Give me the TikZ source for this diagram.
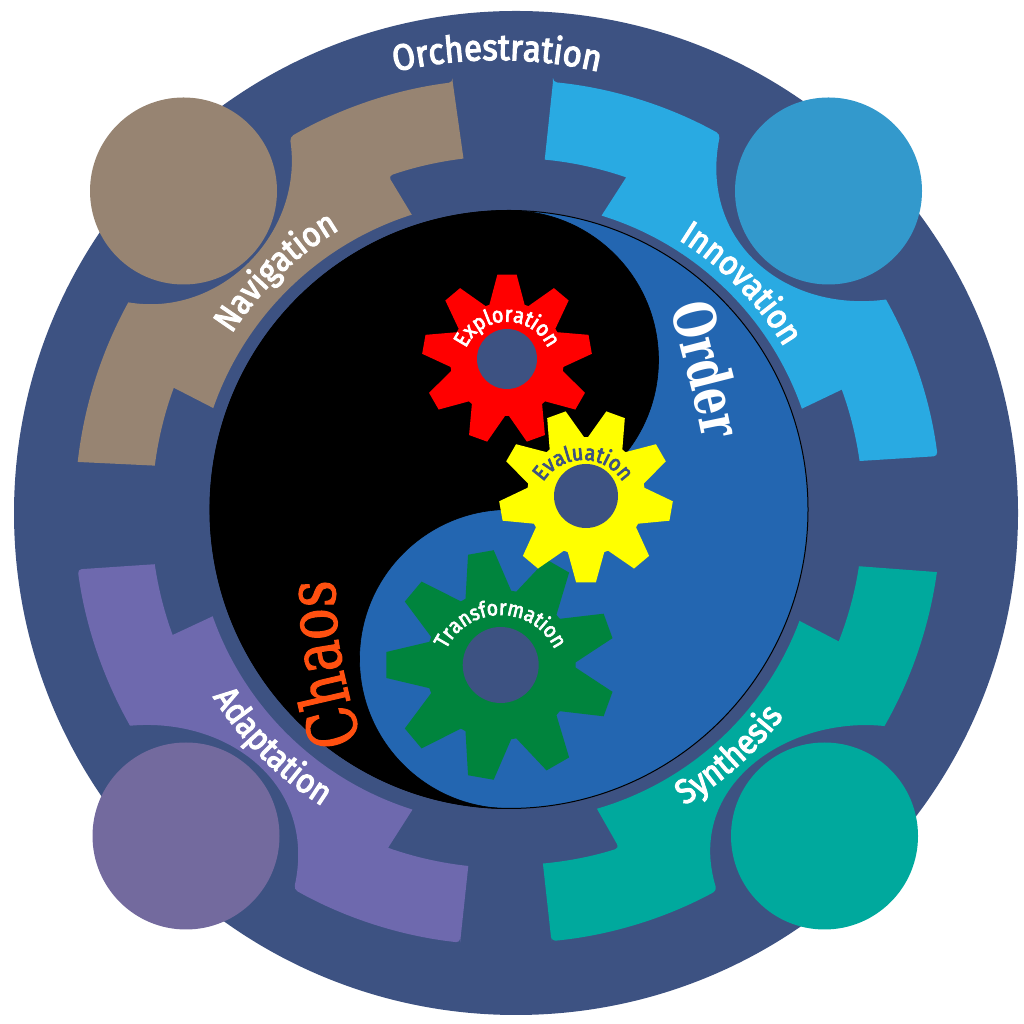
\documentclass[tikz,border=0pt]{standalone}
\usepackage{fontspec}
\usetikzlibrary{decorations.text}
\newfontfamily\labelfont[FakeStretch=0.9,FakeBold=3.2]{Fira Sans}
\newfontfamily\slabfont[FakeStretch=0.77,FakeBold=1.5]{DejaVu Serif}
\newfontfamily\orderfont[FakeStretch=0.72]{DejaVu Serif Bold}
\definecolor{RingNavy}{RGB}{61,82,130}
\definecolor{ArmTan}{RGB}{151,132,114}
\definecolor{ArmSky}{RGB}{41,170,226}
\definecolor{HeadSky}{RGB}{51,153,204}
\definecolor{ArmViolet}{RGB}{110,105,174}
\definecolor{HeadViolet}{RGB}{115,106,158}
\definecolor{ArmTeal}{RGB}{0,169,157}
\definecolor{YangBlue}{RGB}{35,102,177}
\definecolor{GearGreen}{RGB}{0,132,61}
\definecolor{GearRed}{RGB}{255,0,0}
\definecolor{GearYellow}{RGB}{255,255,0}
\definecolor{ChaosOrange}{RGB}{255,80,16}
% gear: centre x, centre y, first tooth angle, tip radius, root radius, colour
\newcommand{\gearshape}[6]{%
	\fill[#6, shift={(#1,#2)}] (#3-18:#5)
		\foreach \k in {0,...,8} {
			-- ({#3+40*\k-18}:#5) -- ({#3+40*\k-6.5}:#4)
			-- ({#3+40*\k+6.5}:#4) -- ({#3+40*\k+18}:#5)
		} -- cycle;}

\begin{document}
\begin{tikzpicture}[x=1pt, y=1pt,
	head/.style={circle, inner sep=0pt, minimum size=187pt},
	hole/.style={circle, inner sep=0pt, fill=RingNavy},
	arctext/.style={decorate, decoration={text along path, text align=center, text={#1}}}]

	\useasboundingbox (0,0) rectangle (1024,1024);
	\node[circle, inner sep=0pt, minimum size=1004pt, fill=RingNavy] (ring) at (516,511) {};

	\node[head, fill=ArmTan] (navhead) at (183.5,833) {};
	\node[head, fill=HeadSky] (innhead) at (828.5,833) {};
	\node[head, fill=HeadViolet] (adahead) at (186,188) {};
	\node[head, fill=ArmTeal] (synhead) at (824.5,188) {};

	\foreach \colr/\cx/\cy/\rout/\rmid/\rin/\aA/\aB/\aC/\aD/\aE/\aF/\aG/\aH/\aI/\aJ/\ca/\cb/\rb/\rg in {
		ArmTan/506/514/431/354/310/97.1/96.9/109.4/107.7/160.8/159.8/172.8/173.6/151.2/120.1/{-286,192}/{-202,276}/4pt/0.01pt,
		ArmSky/511/514/430/352/308/84.4/84.5/70.9/72.9/19.2/20/8/7.2/29.3/60.9/{273,197}/{188,269}/0.01pt/4pt,
		ArmViolet/506/511/432/355/311/263.9/263.9/250.6/252.5/199.4/200.1/188.3/187.5/209.5/240.6/{-278,-204}/{-189,-271}/0.01pt/4pt,
		ArmTeal/511/511/430/352/308/-84.6/-84.8/-72.1/-73.8/-20.5/-21.4/-8.7/-7.9/-29.7/-61.4/{277,-203}/{174,-272}/4pt/0.01pt} {
		\fill[\colr, shift={(\cx,\cy)}] (\aA:\rout) -- (\aB:\rmid) [rounded corners=\rb] arc (\aB:\aC:\rmid)
			[sharp corners] -- (\aD:\rin) arc (\aD:\aE:\rin) -- (\aF:\rmid) arc (\aF:\aG:\rmid)
			[rounded corners=\rg] -- (\aH:\rout) [sharp corners] arc (\aH:\aI:\rout)
			[rounded corners=4pt] .. controls (\ca) and (\cb) .. (\aJ:\rout)
			arc (\aJ:\aA:\rout) [sharp corners] -- cycle;
	}

	% yin and yang
	\draw[line width=1pt, fill=YangBlue] (509,514.5) circle (299);
	\draw[line width=0.6pt, fill=black] (509,813.5) arc (90:-90:149.5) arc (90:270:149.5) arc (270:90:299) -- cycle;

	\gearshape{507}{665}{90}{85}{57}{GearRed}
	\gearshape{500.7}{359}{180}{115}{75}{GearGreen}
	\gearshape{586}{528}{270}{87}{59}{GearYellow}
	\node[hole, minimum size=60pt] (explhole) at (507,665) {};
	\node[hole, minimum size=64pt] (evalhole) at (586,528) {};
	\node[hole, minimum size=76pt] (tranhole) at (500.7,359) {};

	\path[arctext={|\fontsize{36.5}{36.5}\labelfont\color{white}|Orchestration}, shift={(497,514)}] (107:450) arc (107:73:450);
	\path[arctext={|\fontsize{34.5}{34.5}\labelfont\color{white}|Navigation}, shift={(506,514)}] (150:326) arc (150:118:326);
	\path[arctext={|\fontsize{34.5}{34.5}\labelfont\color{white}|Innovation}, shift={(511,514)}] (61:318) arc (61:28:318);
	\path[arctext={|\fontsize{34.5}{34.5}\labelfont\color{white}|Adaptation}, shift={(506,511)}] (208:346) arc (208:242:346);
	\path[arctext={|\fontsize{34.5}{34.5}\labelfont\color{white}|Synthesis}, shift={(511,511)}] (-64:340) arc (-64:-32:340);

	\path[arctext={|\fontsize{22}{22}\labelfont\color{white}|Exploration}, shift={(507,657.3)}] (170:45) arc (170:10:45);
	\path[arctext={|\fontsize{22}{22}\labelfont\color{RingNavy}|Evaluation}, shift={(583,517)}] (170:47) arc (170:10:47);
	\path[arctext={|\fontsize{21.5}{21.5}\labelfont\color{white}|Transformation}, shift={(500.5,349)}] (170:60) arc (170:10:60);

	\path[arctext={|\fontsize{68}{68}\slabfont\color{ChaosOrange}|Chaos}] (360,288) .. controls (345,341) and (335,381) .. (335,439);
	\path[arctext={|\fontsize{58}{58}\orderfont\color{white}|Order}] (671,716) .. controls (683,667) and (696,622) .. (703,584);
\end{tikzpicture}
\end{document}
